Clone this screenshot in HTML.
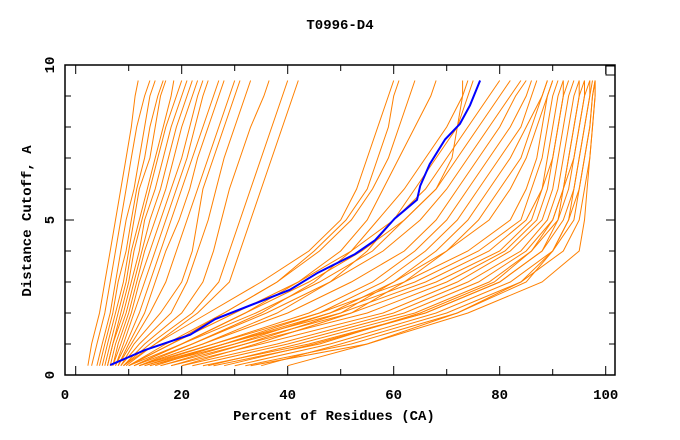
<!DOCTYPE html>
<html><head><meta charset="utf-8"><style>
html,body{margin:0;padding:0;background:#fff;}
svg{display:block;}
text{font-family:"Liberation Mono","DejaVu Sans Mono",monospace;font-weight:bold;fill:#000;}
</style></head><body>
<svg id="chart" width="680" height="440">
<text x="340" y="29" text-anchor="middle" font-size="14">T0996-D4</text>
<text x="334" y="420" text-anchor="middle" font-size="14">Percent of Residues (CA)</text>
<text x="0" y="0" transform="translate(31,221) rotate(-90)" text-anchor="middle" font-size="14">Distance Cutoff, A</text>
<g id="lines"></g>
<g id="axes"></g>
</svg>
<script>
const yLevels=[0.3,1,2,3,4,5,6,7,8,9,9.5];
const xTickLabels=[0,20,40,60,80,100];
const yTickLabels=[0,5,10];
const blueX=[6.5,13,21.6,26.3,40.4,45.7,52.7,56.5,60.2,64.4,65,66.8,69.7,72.5,74.4,76.3];
const blueY=[0.32,0.8,1.3,1.8,2.75,3.3,3.9,4.35,5.05,5.65,6.1,6.8,7.6,8.1,8.7,9.5];
const leftGroup=[
[2.3,3,4.5,5.5,6.5,7.5,8.5,9.5,10.5,11.2,11.8],
[3,4,5.5,6.5,7.5,8.5,9.5,10.5,11.5,13,14],
[4,5,6.5,7.5,8.5,9.5,11,12,13,14,15],
[4.5,5.5,7,8,9.5,10.5,11.5,13,14,15.5,16.5],
[5,6,7.5,9,10,11,12,14,15,16,17],
[5.5,6.5,8,9.5,10.5,12,13.5,15,16.5,18,18.5],
[6,7,8.5,10,11,12.5,14,15.5,17,19,20],
[6,7,9,10.5,12,13,15,16.5,18,20,21],
[6.5,7.5,9.5,11,12.5,14,16,17.5,19,21,22],
[7,8,10,11.5,13,15,17,18.5,20,22,23],
[7,8.5,10.5,12,14,16,18,20,21.5,23,24],
[7.5,9,11,13,15,17,19,21,22.5,24,25],
[7.5,9.5,12,14,16,18,20,22,24,26,27],
[8,10,13,15,17,19.5,21.5,23,25,27,28],
[8,10.5,14,17,19,21,23,25,27,29,30],
[8.5,11,16,20,22,23,24,26,28,30,31],
[8.5,12,18,21,23,25,26.5,28,30,32,33],
[9,13,20,24,26,27.5,29,31,33,35.5,36.5],
[9,14,22,27,29,31,33,35,37,39,40],
[9.5,15,23,29,31,33,35,37,39,41,42]
];
const midGroup=[
[9,15,25,35,44,50,53,55,57,59,60],
[10,17,28,38,45,51,55,57,59,60,61],
[10,18,28,38,46,52,56,59,61,63,64],
[11,20,32,42,50,55,58,61,64,67,68],
[12,22,35,45,52,57,62,66,70,73,74],
[12,24,38,48,55,60,64,68,72,74,75],
[10,20,32,44,54,62,68,72,76,80,82],
[11,22,36,48,58,65,70,74,78,82,84],
[12,24,40,52,62,68,72,76,80,83,85],
[13,26,44,56,64,70,74,78,82,85,86],
[14,28,46,58,66,72,76,80,84,86,87],
[18,32,50,60,68,74,78,82,85,88,89],
[20,34,52,62,70,76,80,84,86,88,89],
[16,30,48,60,70,78,82,85,87,89,90],
[10,18,30,42,52,60,66,70,74,78,80],
[11,20,34,46,56,62,68,71,72,73,73]
];
const rightGroup=[
[14,30,52,68,80,86,88,89,90,91,92],
[16,32,55,70,81,87,89,90,91,92,93],
[18,35,58,72,82,88,90,91,92,93,94],
[20,38,60,74,84,89,91,92,93,94,95],
[22,40,62,76,85,90,92,93,94,95,96],
[25,42,64,78,86,91,93,94,95,96,97],
[28,45,66,80,88,92,94,95,96,97,97.5],
[30,48,68,82,90,93,95,96,97,97.5,98],
[35,50,70,84,92,95,96,97,97.5,98,98],
[33,55,72,84,90,94,95,96,97,97.5,98],
[12,26,46,62,74,82,85,87,88,89,90],
[13,28,48,64,76,84,86,88,89,90,91],
[15,28,50,66,78,85,88,90,91,92,92],
[24,44,66,80,88,91,92,93,94,95,95],
[26,46,65,79,86,90,92,94,95,96,96],
[32,52,72,85,90,93,94,95,96,97,97],
[40,55,74,88,95,96,96.5,97,97.5,98,98]
];
const NS="http://www.w3.org/2000/svg";
const X0=75.7,XS=5.3,Y0=375,YS=31;
function sx(v){return X0+v*XS;}
function sy(v){return Y0-v*YS;}
const lg=document.getElementById('lines');
function drawLine(xs,ys,color,w,name){
  const p=document.createElementNS(NS,'polyline');
  p.setAttribute('points',xs.map((x,i)=>sx(x).toFixed(1)+','+sy(ys[i]).toFixed(1)).join(' '));
  p.setAttribute('fill','none');p.setAttribute('stroke',color);p.setAttribute('stroke-width',w);
  
  
  lg.appendChild(p);
}
[leftGroup,midGroup,rightGroup].forEach(g=>g.forEach(c=>drawLine(c,yLevels,'#ff8000',1,'model-curve')));
drawLine(blueX,blueY,'#0000ff',2,'target-model-curve');
const ax=document.getElementById('axes');
function el(tag,attrs){const e=document.createElementNS(NS,tag);for(const k in attrs)e.setAttribute(k,attrs[k]);ax.appendChild(e);return e;}
const L=65,R=615,T=65,B=375;
const box=el('rect',{x:L,y:T,width:R-L,height:B-T,fill:'none',stroke:'#000','stroke-width':1.5});


const sq=el('rect',{x:606,y:66,width:9,height:9,fill:'none',stroke:'#000','stroke-width':1});


for(let v=0;v<=100;v+=10){
  const x=sx(v),len=(v%20===0)?9:6;
  el('line',{x1:x,y1:B,x2:x,y2:B-len,stroke:'#000','stroke-width':1});
  el('line',{x1:x,y1:T,x2:x,y2:T+len,stroke:'#000','stroke-width':1});
}
xTickLabels.forEach(v=>{
  const t=el('text',{x:v===0?L:sx(v),y:399,'text-anchor':'middle','font-size':14});
  t.textContent=v;
  
  
});
for(let v=0;v<=10;v++){
  const y=sy(v),len=(v%5===0)?9:6;
  el('line',{x1:L,y1:y,x2:L+len,y2:y,stroke:'#000','stroke-width':1});
  el('line',{x1:R,y1:y,x2:R-len,y2:y,stroke:'#000','stroke-width':1});
}
yTickLabels.forEach(v=>{
  const t=el('text',{x:0,y:0,transform:'translate(54,'+sy(v)+') rotate(-90)','text-anchor':'middle','font-size':14});
  t.textContent=v;
  
  
});
</script>
</body></html>
